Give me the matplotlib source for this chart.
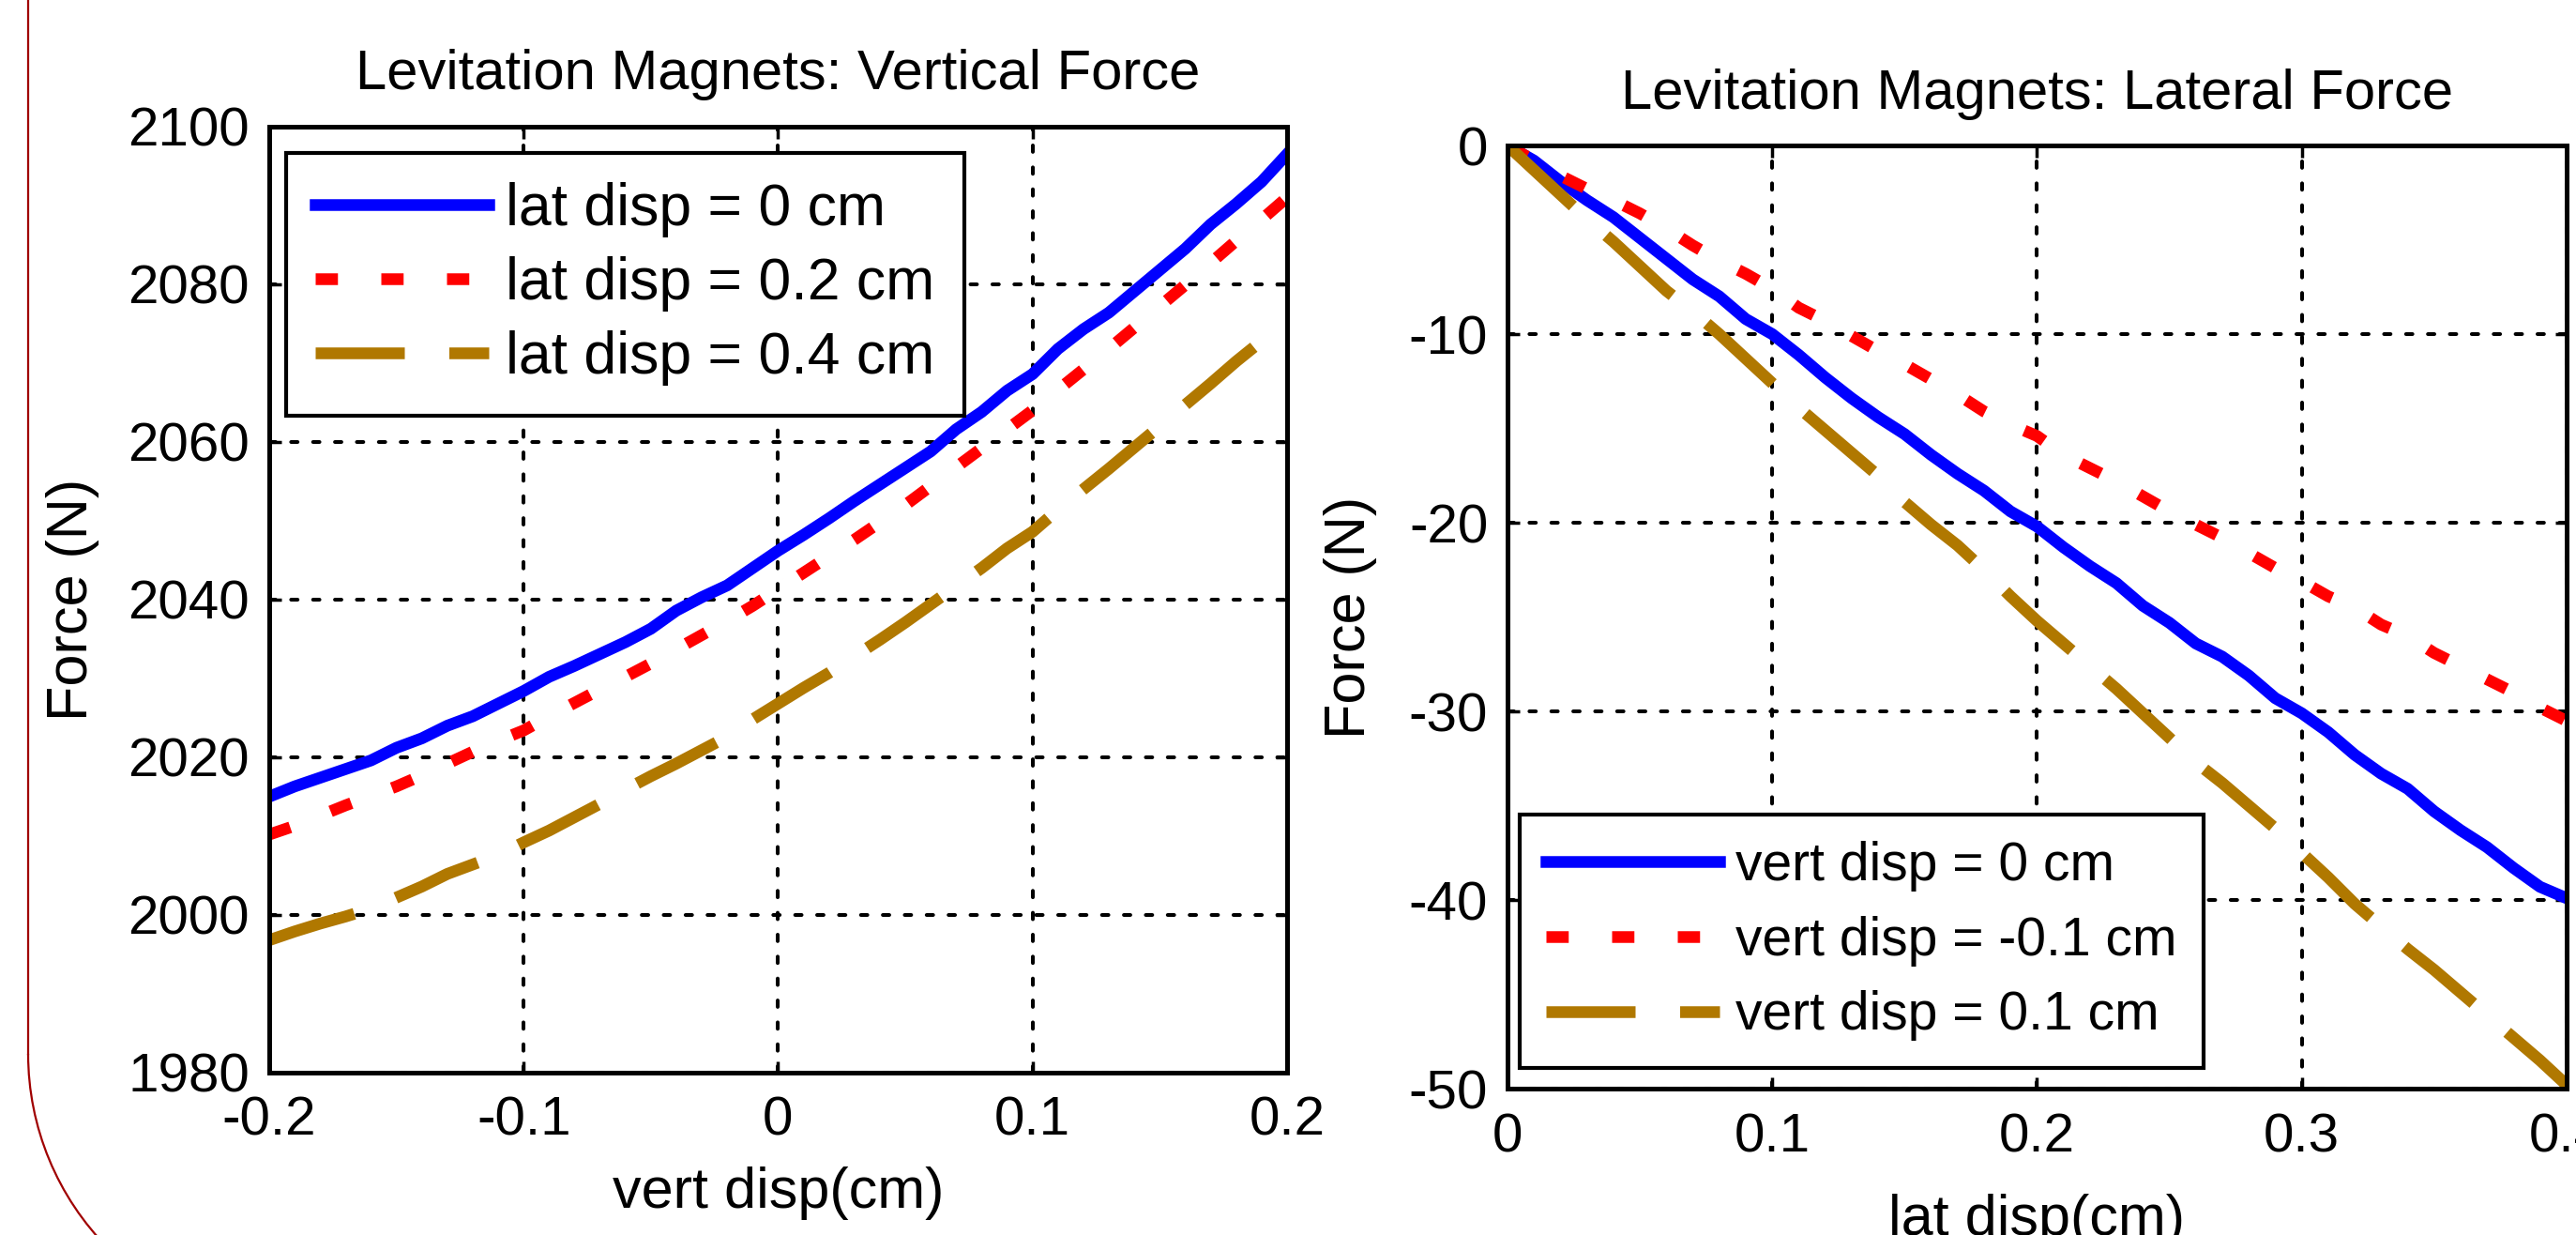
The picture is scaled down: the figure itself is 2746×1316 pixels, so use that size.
import matplotlib
matplotlib.use('Agg')
import matplotlib.pyplot as plt
from matplotlib.lines import Line2D
from matplotlib.patches import Arc

plt.rcParams['font.family'] = ['Liberation Sans', 'DejaVu Sans']
plt.rcParams['axes.unicode_minus'] = False

# ---- data: vertical force vs vertical displacement ----
vert_disp = [-0.20, -0.19, -0.18, -0.17, -0.16, -0.15, -0.14, -0.13, -0.12, -0.11,
             -0.10, -0.09, -0.08, -0.07, -0.06, -0.05, -0.04, -0.03, -0.02, -0.01,
             0.00, 0.01, 0.02, 0.03, 0.04, 0.05, 0.06, 0.07, 0.08, 0.09,
             0.10, 0.11, 0.12, 0.13, 0.14, 0.15, 0.16, 0.17, 0.18, 0.19, 0.20]
fz_lat0 = [2015.0, 2016.3, 2017.4, 2018.5, 2019.6, 2021.2, 2022.4, 2024.0, 2025.2, 2026.8,
           2028.4, 2030.2, 2031.6, 2033.1, 2034.6, 2036.3, 2038.6, 2040.3, 2041.8, 2044.0,
           2046.2, 2048.2, 2050.3, 2052.5, 2054.6, 2056.7, 2058.8, 2061.6, 2063.8, 2066.5,
           2068.6, 2071.8, 2074.3, 2076.4, 2079.1, 2081.8, 2084.5, 2087.6, 2090.2, 2093.0, 2096.5]
fz_lat02 = [2010.2, 2011.3, 2012.6, 2013.9, 2015.1, 2016.3, 2017.7, 2019.2, 2020.7, 2022.1,
            2023.4, 2025.2, 2026.9, 2028.6, 2030.2, 2031.9, 2033.7, 2035.5, 2037.3, 2039.2,
            2041.3, 2043.4, 2045.5, 2047.6, 2049.8, 2052.0, 2054.4, 2056.8, 2059.2, 2061.6,
            2064.0, 2066.6, 2069.2, 2071.8, 2074.5, 2077.2, 2079.9, 2082.7, 2085.5, 2088.2, 2091.0]
fz_lat04 = [1996.8, 1997.9, 1998.9, 1999.8, 2000.8, 2002.2, 2003.6, 2005.2, 2006.4, 2007.6,
            2009.2, 2010.7, 2012.4, 2014.1, 2015.9, 2017.6, 2019.2, 2020.9, 2022.6, 2024.8,
            2026.8, 2028.8, 2030.7, 2032.8, 2034.9, 2037.1, 2039.4, 2041.7, 2044.0, 2046.5,
            2048.6, 2051.4, 2054.0, 2056.6, 2059.3, 2062.0, 2064.7, 2067.4, 2070.2, 2072.8, 2075.5]

# ---- data: lateral force vs lateral displacement ----
lat_disp = [0.00, 0.01, 0.02, 0.03, 0.04, 0.05, 0.06, 0.07, 0.08, 0.09,
            0.10, 0.11, 0.12, 0.13, 0.14, 0.15, 0.16, 0.17, 0.18, 0.19,
            0.20, 0.21, 0.22, 0.23, 0.24, 0.25, 0.26, 0.27, 0.28, 0.29,
            0.30, 0.31, 0.32, 0.33, 0.34, 0.35, 0.36, 0.37, 0.38, 0.39, 0.40]
fy_vert0 = [0.0, -0.8, -1.9, -2.9, -3.8, -4.9, -6.0, -7.1, -8.0, -9.2,
            -10.0, -11.1, -12.3, -13.4, -14.4, -15.3, -16.4, -17.4, -18.3, -19.4,
            -20.2, -21.3, -22.3, -23.2, -24.4, -25.3, -26.4, -27.1, -28.1, -29.3,
            -30.1, -31.1, -32.3, -33.3, -34.1, -35.3, -36.3, -37.2, -38.3, -39.3, -39.9]
fy_vertm01 = [0.0, -0.8, -1.6, -2.3, -2.9, -3.6, -4.4, -5.3, -6.1, -6.8,
              -7.6, -8.6, -9.3, -10.1, -10.9, -11.6, -12.4, -13.2, -14.1, -14.8,
              -15.4, -16.4, -17.1, -17.8, -18.6, -19.4, -20.1, -20.8, -21.6, -22.4,
              -23.1, -23.9, -24.5, -25.4, -26.0, -26.9, -27.6, -28.3, -29.0, -29.8, -30.5]
fy_vert01 = [0.0, -1.3, -2.6, -3.9, -5.1, -6.4, -7.7, -8.8, -10.0, -11.3,
             -12.6, -13.9, -15.1, -16.3, -17.5, -18.9, -20.1, -21.2, -22.5, -23.9,
             -25.2, -26.4, -27.6, -28.8, -30.1, -31.4, -32.7, -33.8, -35.0, -36.2,
             -37.5, -38.8, -40.2, -41.4, -42.6, -43.7, -44.9, -46.1, -47.3, -48.5, -49.8]

left_xticks = [-0.2, -0.1, 0, 0.1, 0.2]
left_xlabels = ['-0.2', '-0.1', '0', '0.1', '0.2']
left_yticks = [1980, 2000, 2020, 2040, 2060, 2080, 2100]
right_xticks = [0, 0.1, 0.2, 0.3, 0.4]
right_xlabels = ['0', '0.1', '0.2', '0.3', '0.4']
right_yticks = [-50, -40, -30, -20, -10, 0]

BLUE = '#0000ff'
RED = '#ff0000'
GOLD = '#b07800'
FS_TICK = 42
FS_TITLE = 43
FS_LABEL = 44

fig = plt.figure(figsize=(27.46, 13.16), dpi=100, facecolor='w')
ax1 = fig.add_axes([0.1045, 0.1315, 0.3951, 0.766])
ax2 = fig.add_axes([0.5852, 0.1185, 0.4111, 0.7637])


def style_axes(ax):
    for sp in ax.spines.values():
        sp.set_linewidth(3.6)
    ax.tick_params(direction='in', length=9, width=2.5, top=True, right=True,
                   labelsize=FS_TICK)
    ax.tick_params(axis='x', pad=18)
    ax.tick_params(axis='y', pad=15)
    ax.grid(True, color='k', linestyle=(0, (1.7, 4.1)), linewidth=2.9,
            dash_capstyle='round')
    ax.set_axisbelow('line')


def add_legend(ax, loc, anchor, size, spacing):
    leg = ax.legend(loc=loc, bbox_to_anchor=anchor, borderaxespad=0,
                    fontsize=size, handlelength=2.95 * 45 / size, handletextpad=0.3,
                    borderpad=0.5, labelspacing=spacing, fancybox=False,
                    framealpha=1, edgecolor='k')
    leg.get_frame().set_linewidth(3)
    return leg


# left: vertical force
ax1.plot(vert_disp, fz_lat0, color=BLUE, lw=9, label='lat disp = 0 cm')
ax1.plot(vert_disp, fz_lat02, color=RED, lw=9, linestyle=(0, (1.9, 3.7)), label='lat disp = 0.2 cm')
ax1.plot(vert_disp, fz_lat04, color=GOLD, lw=9, linestyle=(0, (7.6, 3.8)), label='lat disp = 0.4 cm')
ax1.set_xlim(-0.2, 0.2)
ax1.set_ylim(1980, 2100)
ax1.set_xticks(left_xticks)
ax1.set_xticklabels(left_xlabels)
ax1.set_yticks(left_yticks)
style_axes(ax1)
ax1.set_title('Levitation Magnets: Vertical Force', fontsize=FS_TITLE, pad=29)
ax1.set_xlabel('vert disp(cm)', fontsize=FS_LABEL, labelpad=15)
ax1.set_ylabel('Force (N)', fontsize=FS_LABEL, labelpad=22)
add_legend(ax1, 'upper left', (0.0166, 0.972), 45, 0.32)

# right: lateral force
ax2.plot(lat_disp, fy_vert0, color=BLUE, lw=9, label='vert disp = 0 cm')
ax2.plot(lat_disp, fy_vertm01, color=RED, lw=9, linestyle=(0, (1.9, 3.7)), label='vert disp = -0.1 cm')
ax2.plot(lat_disp, fy_vert01, color=GOLD, lw=9, linestyle=(0, (7.6, 3.8)), label='vert disp = 0.1 cm')
ax2.set_xlim(0, 0.4)
ax2.set_ylim(-50, 0)
ax2.set_xticks(right_xticks)
ax2.set_xticklabels(right_xlabels)
ax2.set_yticks(right_yticks)
style_axes(ax2)
ax2.set_title('Levitation Magnets: Lateral Force', fontsize=FS_TITLE, pad=28)
ax2.set_xlabel('lat disp(cm)', fontsize=FS_LABEL, labelpad=24)
ax2.set_ylabel('Force (N)', fontsize=FS_LABEL, labelpad=24)
add_legend(ax2, 'lower left', (0.0115, 0.022), 41, 0.45)

# slide frame on the far left (dark red, rounded corner)
W, H = 2746, 1316
fig.add_artist(Line2D([30 / W, 30 / W], [1, 1 - 1123 / H], transform=fig.transFigure,
                      color='#a00000', lw=1.6))
fig.add_artist(Arc((324 / W, 1 - 1123 / H), 588 / W, 588 / H, theta1=180, theta2=270,
                   transform=fig.transFigure, color='#a00000', lw=1.6))

fig.savefig('out.png', dpi=100, facecolor='w')
